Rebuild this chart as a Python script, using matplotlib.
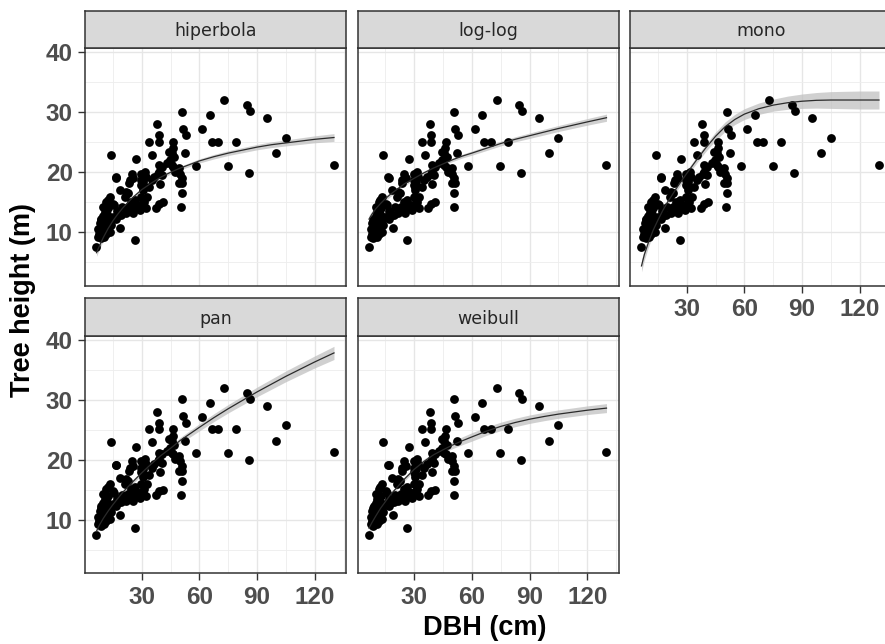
import numpy as np
import matplotlib
matplotlib.use("Agg")
from matplotlib import pyplot as plt

# facet names, in the order ggplot lays them out
models = ["hiperbola", "log-log", "mono", "pan", "weibull"]

# observed trees (same in every facet)
dbh = [73.0, 84.6, 86.3, 95.0, 65.5, 50.8, 61.5, 51.3, 53.0, 66.4, 69.8, 79.0, 104.8, 52.3, 100.0,
       58.0, 74.8, 85.8, 130.0, 38.2, 38.8, 34.0, 39.0, 35.6, 14.0, 27.3, 16.6, 18.8, 26.5, 6.3,
       46.4, 46.1, 45.6, 44.4, 44.7, 45.6, 46.4, 48.2, 49.9, 50.8, 49.6, 50.8, 50.6, 49.6, 47.5,
       51.0, 43.0, 47.0,
       40.6, 38.7, 40.4, 39.5, 36.6, 35.2, 31.7, 30.8, 32.2, 30.5, 30.5, 32.6, 31.4, 30.8, 29.1,
       32.3, 28.8, 27.2, 26.4, 26.5, 24.6, 22.9, 37.4, 38.8, 41.0, 29.8, 29.8, 29.8, 24.8, 25.6,
       23.8, 23.6, 22.8, 21.2, 18.6, 21.8, 29.8, 34.0, 39.1, 39.1,
       16.8, 13.4, 11.6, 9.9, 12.5, 15.1, 10.8, 15.8, 12.3, 19.4, 16.8, 21.8, 23.6, 25.3, 18.4,
       14.9, 13.4, 9.0, 8.2, 9.9, 11.6, 9.0, 11.6, 13.4, 7.3, 8.0, 10.6, 8.8, 8.8, 9.7,
       11.4, 10.0, 12.0, 7.5, 10.5, 14.0, 17.0, 20.0]
height = [32.0, 31.2, 30.2, 29.0, 29.5, 30.1, 27.2, 27.3, 26.2, 25.1, 25.1, 25.1, 25.8, 23.2, 23.2,
          21.1, 21.1, 19.9, 21.3, 28.0, 26.2, 25.1, 25.1, 22.9, 22.9, 22.2, 19.2, 10.8, 8.7, 7.5,
          25.1, 24.0, 23.2, 23.4, 22.0, 21.2, 20.9, 20.4, 19.8, 19.0, 18.2, 16.5, 14.2, 20.7, 20.1,
          18.2, 21.5, 22.5,
          20.9, 19.8, 19.5, 18.0, 19.3, 18.7, 20.1, 18.4, 19.3, 17.1, 17.6, 15.9, 15.1, 14.8, 13.7,
          14.0, 14.5, 14.6, 14.0, 15.4, 15.1, 14.3, 14.1, 14.8, 15.0, 19.8, 18.7, 17.9, 19.8, 19.0,
          18.7, 18.2, 16.5, 15.9, 17.0, 16.8, 15.9, 17.5, 20.1, 21.2,
          19.1, 15.9, 15.1, 14.3, 14.0, 14.8, 13.4, 14.5, 15.4, 12.9, 12.3, 13.2, 13.5, 13.2, 12.9,
          12.6, 12.0, 12.3, 11.5, 10.9, 11.2, 10.1, 9.8, 10.1, 9.3, 9.8, 9.3, 9.0, 12.0, 10.7,
          10.1, 12.8, 13.0, 10.5, 11.8, 11.3, 13.5, 14.2]

# fitted curves
fit_dbh = [6.5, 8, 10, 12.5, 15, 17.5, 20, 25, 30, 35, 40, 45, 50, 55, 60, 67.5, 75, 82.5,
           90, 97.5, 105, 120, 130]
fit_height = {
    "hiperbola": [6.6, 7.7, 9.1, 10.6, 11.9, 13.0, 14.0, 15.7, 17.1, 18.2, 19.2, 20.0, 20.7,
                  21.3, 21.9, 22.6, 23.2, 23.7, 24.2, 24.6, 24.9, 25.5, 25.8],
    "log-log":   [12.2, 13.0, 13.9, 14.8, 15.6, 16.3, 16.9, 18.1, 19.0, 19.9, 20.7, 21.4, 22.1,
                  22.7, 23.2, 24.0, 24.8, 25.5, 26.1, 26.7, 27.3, 28.4, 29.1],
    "mono":      [4.4, 6.3, 8.2, 10.3, 12.0, 13.6, 15.0, 17.5, 19.8, 22.0, 24.1, 26.0, 27.6,
                  28.8, 29.7, 30.6, 31.2, 31.6, 31.85, 32.0, 32.05, 32.05, 32.05],
    "pan":       [8.1, 9.1, 10.2, 11.4, 12.5, 13.5, 14.5, 16.2, 17.8, 19.3, 20.7, 21.9, 23.2,
                  24.3, 25.4, 27.0, 28.5, 29.9, 31.3, 32.6, 33.9, 36.3, 37.8],
    "weibull":   [8.6, 9.5, 10.6, 11.9, 13.0, 14.1, 15.0, 16.8, 18.4, 19.7, 20.8, 21.65, 22.45,
                  23.15, 23.8, 24.75, 25.55, 26.2, 26.75, 27.2, 27.6, 28.25, 28.6],
}
# half width of the grey confidence band
fit_band = {
    "hiperbola": [0.6, 0.55, 0.5, 0.45, 0.4, 0.38, 0.35, 0.32, 0.3, 0.3, 0.3, 0.3, 0.3, 0.32,
                  0.35, 0.38, 0.4, 0.43, 0.45, 0.48, 0.5, 0.58, 0.65],
    "log-log":   [0.6, 0.55, 0.5, 0.45, 0.4, 0.38, 0.35, 0.32, 0.3, 0.3, 0.3, 0.3, 0.3, 0.32,
                  0.35, 0.38, 0.4, 0.42, 0.45, 0.48, 0.5, 0.55, 0.6],
    "mono":      [1.0, 0.9, 0.8, 0.7, 0.6, 0.55, 0.5, 0.5, 0.5, 0.55, 0.6, 0.7, 0.8, 0.85, 0.9,
                  0.95, 1.0, 1.1, 1.2, 1.3, 1.4, 1.5, 1.5],
    "pan":       [0.7, 0.65, 0.6, 0.55, 0.5, 0.45, 0.4, 0.38, 0.35, 0.38, 0.4, 0.45, 0.5, 0.55,
                  0.6, 0.65, 0.7, 0.75, 0.8, 0.85, 0.9, 1.0, 1.1],
    "weibull":   [0.7, 0.6, 0.5, 0.45, 0.4, 0.38, 0.35, 0.35, 0.35, 0.38, 0.4, 0.5, 0.6, 0.65,
                  0.7, 0.7, 0.7, 0.7, 0.7, 0.7, 0.7, 0.72, 0.75],
}

x_ticks = [30, 60, 90, 120]
x_minor = [15, 45, 75, 105, 135]
y_ticks = [10, 20, 30, 40]
y_minor = [5, 15, 25, 35]

W, H = 885, 644
fig = plt.figure(figsize=(W / 100, H / 100), dpi=100)
fig.patch.set_facecolor("white")


def box(left, top, width, hgt):
    """pixel box (top-left origin) -> figure fraction rect"""
    return [left / W, 1 - (top + hgt) / H, width / W, hgt / H]


panel_w, panel_h, strip_h = 261, 237.7, 37.6
col_left = [85.3, 357.8, 630.3]
row_top = [48.3, 335.7]
tick_font = dict(family="Liberation Sans", weight="bold", size=17.5)

for i, model in enumerate(models):
    row, col = divmod(i, 3)
    ax = fig.add_axes(box(col_left[col], row_top[row], panel_w, panel_h))
    fx = np.array(fit_dbh)
    fy = np.array(fit_height[model])
    fb = np.array(fit_band[model])
    ax.fill_between(fx, fy - fb, fy + fb, color="#bdbdbd", alpha=0.7, lw=0, zorder=1.5)
    ax.scatter(dbh, height, s=40, color="black", lw=0, zorder=2)
    ax.plot(fx, fy, color="#2b2b2b", lw=0.9, zorder=3)

    ax.set_xlim(0.68, 136.4)
    ax.set_ylim(1.05, 40.67)
    ax.set_xticks(x_ticks)
    ax.set_xticks(x_minor, minor=True)
    ax.set_yticks(y_ticks)
    ax.set_yticks(y_minor, minor=True)
    ax.grid(which="major", color="#e6e6e6", lw=1.0, zorder=0)
    ax.grid(which="minor", color="#ededed", lw=0.6, zorder=0)
    ax.set_axisbelow(True)
    for sp in ax.spines.values():
        sp.set_color("#333333")
        sp.set_linewidth(1.1)
    ax.tick_params(which="minor", length=0)
    ax.tick_params(which="major", color="#333333", width=1.0, length=5, pad=4,
                   labelcolor="#4d4d4d")

    show_x = i >= 2
    show_y = col == 0
    ax.tick_params(axis="x", bottom=show_x, labelbottom=show_x)
    ax.tick_params(axis="y", left=show_y, labelleft=show_y)
    for lab in ax.get_xticklabels() + ax.get_yticklabels():
        lab.set_fontproperties(tick_font)
        lab.set_color("#4d4d4d")

    strip = fig.add_axes(box(col_left[col], row_top[row] - strip_h, panel_w, strip_h))
    strip.set_facecolor("#d9d9d9")
    strip.set_xticks([])
    strip.set_yticks([])
    for sp in strip.spines.values():
        sp.set_color("#333333")
        sp.set_linewidth(1.1)
    strip.text(0.5, 0.45, model, ha="center", va="center", fontsize=12.5,
               family="DejaVu Sans", color="#262626", transform=strip.transAxes)

fig.text(23 / W, 1 - 300 / H, "Tree height (m)", rotation=90, ha="center", va="center",
         family="Liberation Sans", weight="bold", size=19.5)
fig.text(485 / W, 1 - 628 / H, "DBH (cm)", ha="center", va="center",
         family="Liberation Sans", weight="bold", size=19.5)

fig.savefig("out.png", dpi=100)
